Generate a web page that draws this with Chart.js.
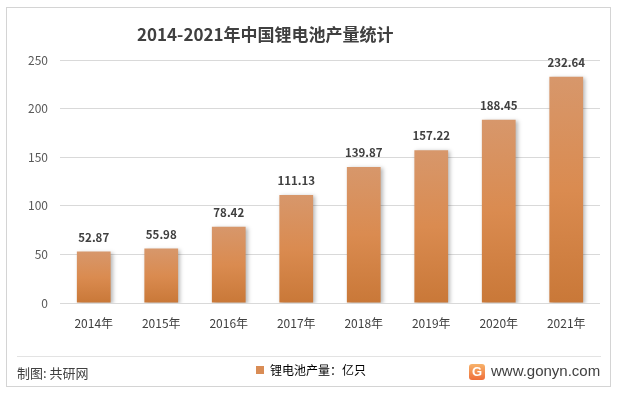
<!DOCTYPE html>
<html>
<head>
<meta charset="utf-8">
<script src="https://cdn.jsdelivr.net/npm/chart.js@4"></script>
<style>
  html,body{margin:0;padding:0;background:#fff;}
  #wrap{position:relative;width:617px;height:394px;overflow:hidden;font-family:"Noto Sans CJK SC","Microsoft YaHei",sans-serif;}
  #frame{position:absolute;left:6px;top:7px;width:605px;height:380px;border:1px solid #d4d4d4;box-sizing:border-box;}
  #title{position:absolute;left:137px;top:22px;font-size:17px;font-weight:bold;color:#404040;white-space:nowrap;line-height:24px;}
  #sep{position:absolute;left:17px;top:356px;width:584px;height:1px;background:#e3e3e3;}
  #maker{position:absolute;left:17px;top:364px;font-size:13px;color:#404040;line-height:18px;}
  #site{position:absolute;left:491px;top:361px;font-size:15px;color:#404040;line-height:20px;font-family:"Liberation Sans",Arial,sans-serif;}
  #logo{position:absolute;left:469px;top:364px;width:16px;height:16px;border-radius:3px;background:linear-gradient(180deg,#f7b26a,#ef6f3a);color:#fff;font:bold 13px "Liberation Sans",Arial,sans-serif;text-align:center;line-height:16px;}
  .wm{position:absolute;color:rgba(0,0,0,0.022);font-weight:bold;white-space:nowrap;transform:rotate(-12deg);}
  canvas{position:absolute;left:0;top:0;}
</style>
</head>
<body>
<div id="wrap">
  <div id="frame"></div>
  <div class="wm" style="left:200px;top:20px;font-size:40px;">G共研网</div>
  <div class="wm" style="left:95px;top:140px;font-size:40px;">G共研网</div>
  <div class="wm" style="left:390px;top:220px;font-size:40px;">G共研网</div>
  <div class="wm" style="left:330px;top:290px;font-size:40px;">G共研网</div>
  <div class="wm" style="left:490px;top:340px;font-size:40px;">G共研网</div>
  <div class="wm" style="left:-20px;top:170px;font-size:40px;">共研网</div>
  <canvas id="c" width="617" height="394"></canvas>
  <div id="title">2014-2021年中国锂电池产量统计</div>
  <div id="sep"></div>
  <div id="maker">制图: 共研网</div>
  <div id="logo">G</div>
  <div id="site">www.gonyn.com</div>
</div>
<script>
const categories = ["2014年","2015年","2016年","2017年","2018年","2019年","2020年","2021年"];
const production = [52.87, 55.98, 78.42, 111.13, 139.87, 157.22, 188.45, 232.64];
const seriesName = "锂电池产量：亿只";
const yTicks = [0, 50, 100, 150, 200, 250];

const FONT = '"Noto Sans CJK SC","Microsoft YaHei",sans-serif';

function barGradient(context) {
  const chart = context.chart;
  const area = chart.chartArea;
  if (!area || context.type !== 'data') return '#d98c55';
  const ys = chart.scales.y;
  const top = ys.getPixelForValue(context.raw);
  const bottom = ys.getPixelForValue(0);
  if (!isFinite(top) || !isFinite(bottom) || top === bottom) return '#d98c55';
  const g = chart.ctx.createLinearGradient(0, top, 0, bottom);
  g.addColorStop(0, '#d7976b');
  g.addColorStop(0.5, '#da8b50');
  g.addColorStop(1, '#c97838');
  return g;
}

const shadowPlugin = {
  id: 'barShadow',
  beforeDatasetsDraw(chart) {
    const ctx = chart.ctx;
    ctx.save();
    ctx.shadowColor = 'rgba(0,0,0,0.28)';
    ctx.shadowBlur = 4;
    ctx.shadowOffsetX = 2;
    ctx.shadowOffsetY = 1;
  },
  afterDatasetsDraw(chart) {
    chart.ctx.restore();
  }
};

const labelPlugin = {
  id: 'valueLabels',
  afterDraw(chart) {
    const ctx = chart.ctx;
    const meta = chart.getDatasetMeta(0);
    ctx.save();
    ctx.font = '600 11.5px ' + FONT;
    ctx.fillStyle = '#404040';
    ctx.textAlign = 'center';
    ctx.textBaseline = 'alphabetic';
    meta.data.forEach((bar, i) => {
      ctx.fillText(production[i].toFixed(2), bar.x, bar.y - 10);
    });
    ctx.restore();
  }
};

new Chart(document.getElementById('c'), {
  type: 'bar',
  data: {
    labels: categories,
    datasets: [{
      label: seriesName,
      data: production,
      backgroundColor: barGradient,
      borderWidth: 0,
      categoryPercentage: 1.0,
      barPercentage: 0.5
    }]
  },
  options: {
    responsive: false,
    animation: false,
    layout: { padding: { left: 22, right: 17, top: 60, bottom: 8 } },
    plugins: {
      title: { display: false },
      tooltip: { enabled: false },
      legend: {
        display: true,
        position: 'bottom',
        labels: {
          boxWidth: 8,
          boxHeight: 8,
          padding: 8,
          color: '#404040',
          font: { size: 12, family: FONT },
          generateLabels(chart) {
            return [{
              text: seriesName,
              fillStyle: '#d98c55',
              strokeStyle: '#d98c55',
              lineWidth: 0,
              datasetIndex: 0,
              hidden: false
            }];
          }
        }
      }
    },
    scales: {
      x: {
        grid: { display: false, drawTicks: false },
        border: { display: false },
        ticks: { color: '#404040', padding: 13, font: { size: 12, family: FONT } },
        afterFit(scale) { scale.height = 53; }
      },
      y: {
        min: 0,
        max: 250,
        afterBuildTicks(scale) { scale.ticks = yTicks.map(v => ({ value: v })); },
        grid: { color: '#d9d9d9', lineWidth: 1, drawTicks: false },
        border: { display: false },
        ticks: { color: '#595959', padding: 12, font: { size: 12, family: FONT } },
        afterFit(scale) { scale.width = 38; }
      }
    }
  },
  plugins: [shadowPlugin, labelPlugin]
});
</script>
</body>
</html>
